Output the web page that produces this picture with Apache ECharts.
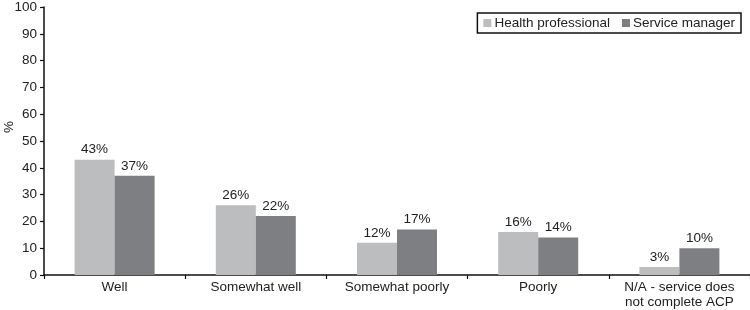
<!DOCTYPE html>
<html>
<head>
<meta charset="utf-8">
<script src="https://cdn.jsdelivr.net/npm/echarts@6/dist/echarts.min.js"></script>
<style>
  html, body { margin: 0; padding: 0; background: #fff; }
  #container { width: 750px; height: 310px; }
</style>
</head>
<body>
<div id="container"></div>
<script>
// data
var categories = ['Well', 'Somewhat well', 'Somewhat poorly', 'Poorly', 'N/A - service does\nnot complete ACP'];
var healthProfessional = [43, 26, 12, 16, 3];
var serviceManager = [37, 22, 17, 14, 10];
var yTicks = { min: 0, max: 100, interval: 10 };

var textFont = 'Liberation Sans, Arial, sans-serif';
var axisColor = '#111';

var myChart = echarts.init(document.getElementById('container'), null, { renderer: 'canvas' });

function barLabel() {
    return {
        show: true,
        position: 'top',
        distance: 3,
        formatter: '{c}%',
        color: '#222',
        fontSize: 13.5,
        fontFamily: textFont
    };
}

var option = {
    animation: false,
    textStyle: { fontFamily: textFont },
    legend: {
        right: 9,
        top: 13,
        padding: [3, 6, 3, 6],
        borderColor: '#111',
        borderWidth: 1.5,
        itemWidth: 8,
        itemHeight: 8,
        itemGap: 12,
        icon: 'rect',
        textStyle: { fontSize: 13.5, color: '#222', padding: [0, 0, 0, -2] },
        data: ['Health professional', 'Service manager']
    },
    grid: {
        left: 44,
        right: 0,
        top: 7,
        bottom: 35,
        outerBoundsMode: 'none',
        containLabel: false
    },
    xAxis: {
        type: 'category',
        data: categories,
        axisLine: { lineStyle: { color: axisColor, width: 1.5 } },
        axisTick: { show: true, length: 4, lineStyle: { color: axisColor, width: 1.2 } },
        axisLabel: { color: '#222', fontSize: 13.5, margin: 5, lineHeight: 15, interval: 0 }
    },
    yAxis: {
        type: 'value',
        min: yTicks.min,
        max: yTicks.max,
        interval: yTicks.interval,
        name: '%',
        nameLocation: 'middle',
        nameRotate: 90,
        nameGap: 28,
        nameMoveOverlap: false,
        nameTextStyle: { color: '#222', fontSize: 13.5, padding: [0, 0, 0, 28] },
        splitLine: { show: false },
        axisLine: { show: true, lineStyle: { color: axisColor, width: 1.5 } },
        axisTick: { show: true, length: 4, lineStyle: { color: axisColor, width: 1.2 } },
        axisLabel: { color: '#222', fontSize: 13.5, margin: 7 }
    },
    series: [
        {
            name: 'Health professional',
            type: 'bar',
            data: healthProfessional,
            barWidth: 40,
            barGap: '0%',
            itemStyle: { color: '#bcbdbf' },
            label: barLabel()
        },
        {
            name: 'Service manager',
            type: 'bar',
            data: serviceManager,
            barWidth: 40,
            barGap: '0%',
            itemStyle: { color: '#7e7f82' },
            label: barLabel()
        }
    ]
};

myChart.setOption(option);
window.addEventListener('resize', myChart.resize);
</script>
</body>
</html>
